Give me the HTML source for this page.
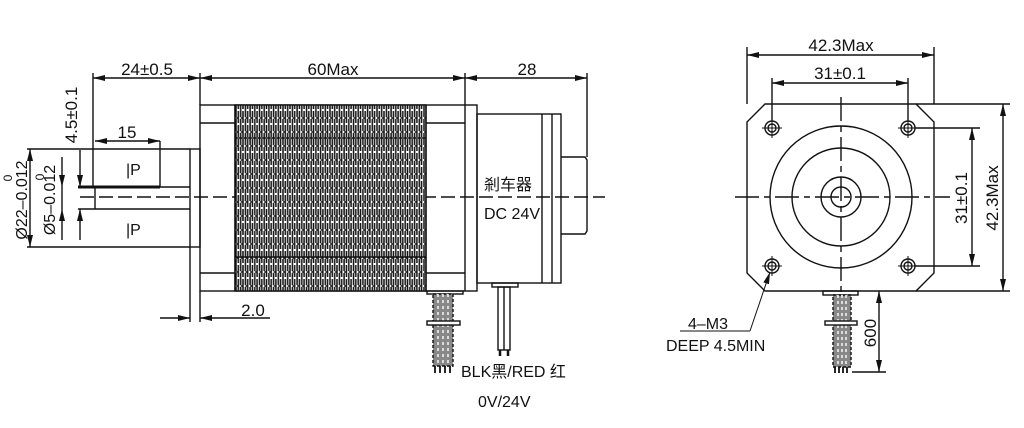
<!DOCTYPE html>
<html><head><meta charset="utf-8"><style>
html,body{margin:0;padding:0;background:#fff;}
svg{display:block;}
text{font-family:"Liberation Sans Narrow","Liberation Sans","Noto Sans CJK SC",sans-serif;fill:#111;}
</style></head><body>
<svg width="1024" height="428" viewBox="0 0 1024 428" xmlns="http://www.w3.org/2000/svg">
<defs>
<pattern id="h" x="235" y="0" width="4.7" height="14" patternUnits="userSpaceOnUse">
<rect width="4.7" height="14" fill="#fff"/>
<path d="M1 0V5M1 7V14M3.3 0V11M3.3 13V14M1 6H3.3" stroke="#111" stroke-width="1.5" fill="none"/>
</pattern>
<marker id="a" viewBox="0 0 12 6" refX="12" refY="3" markerWidth="12" markerHeight="6" orient="auto-start-reverse" markerUnits="userSpaceOnUse"><path d="M0 0L12 3L0 6Z" fill="#111"/></marker>
</defs>
<g stroke="#111" stroke-width="1.4" fill="none">
<line x1="80" y1="197" x2="605" y2="197" stroke-dasharray="14 5"/>
<rect x="200" y="105" width="277" height="186"/>
<rect x="235" y="105" width="191" height="186" fill="url(#h)"/>
<line x1="235" y1="105" x2="235" y2="291"/>
<line x1="426" y1="105" x2="426" y2="291"/>
<line x1="465" y1="105" x2="465" y2="291"/>
<line x1="200" y1="123" x2="235" y2="123"/><line x1="200" y1="273" x2="235" y2="273"/>
<line x1="426" y1="123" x2="465" y2="123"/><line x1="426" y1="273" x2="465" y2="273"/>
<line x1="235" y1="138" x2="426" y2="138"/><line x1="235" y1="257" x2="426" y2="257"/>
<rect x="477" y="114" width="84" height="169"/>
<line x1="542" y1="114" x2="542" y2="283"/><line x1="552" y1="114" x2="552" y2="283"/>
<path d="M561 157H585L587 160V231L585 234H561"/>
<rect x="190" y="149" width="10" height="98"/>
<line x1="27" y1="149" x2="190" y2="149"/><line x1="27" y1="247" x2="190" y2="247"/>
<line x1="78" y1="187" x2="190" y2="187"/><line x1="78" y1="209" x2="190" y2="209"/>
<line x1="78" y1="187" x2="160" y2="187" stroke-width="3"/>
<line x1="95" y1="187" x2="95" y2="209"/>
<line x1="93" y1="73" x2="93" y2="187"/>
<line x1="200" y1="73" x2="200" y2="105"/>
<line x1="465" y1="73" x2="465" y2="105"/>
<line x1="587" y1="73" x2="587" y2="157"/>
<line x1="93" y1="78" x2="200" y2="78" marker-start="url(#a)" marker-end="url(#a)"/>
<line x1="200" y1="78" x2="465" y2="78" marker-start="url(#a)" marker-end="url(#a)"/>
<line x1="465" y1="78" x2="587" y2="78" marker-start="url(#a)" marker-end="url(#a)"/>
<line x1="160" y1="141" x2="160" y2="187"/>
<line x1="95" y1="141" x2="160" y2="141" marker-start="url(#a)" marker-end="url(#a)"/>
<line x1="30" y1="149" x2="30" y2="247" marker-start="url(#a)" marker-end="url(#a)"/>
<line x1="62" y1="157" x2="62" y2="187" marker-end="url(#a)"/>
<line x1="62" y1="240" x2="62" y2="209" marker-end="url(#a)"/>
<line x1="62" y1="187" x2="62" y2="209"/>
<line x1="80" y1="150" x2="80" y2="187" marker-end="url(#a)"/>
<line x1="80" y1="240" x2="80" y2="209" marker-end="url(#a)"/>
<line x1="190" y1="247" x2="190" y2="322"/><line x1="200" y1="291" x2="200" y2="322"/>
<line x1="160" y1="318" x2="190" y2="318" marker-end="url(#a)"/>
<line x1="270" y1="318" x2="200" y2="318" marker-end="url(#a)"/>
<rect x="427" y="291" width="36" height="3"/>
<rect x="433" y="294" width="20" height="72" fill="#888" stroke-dasharray="3 2"/>
<line x1="438" y1="294" x2="438" y2="366" stroke="#fff" stroke-dasharray="3 3"/><line x1="443" y1="294" x2="443" y2="366" stroke="#fff" stroke-dasharray="3 3"/><line x1="448" y1="294" x2="448" y2="366" stroke="#fff" stroke-dasharray="3 3"/>
<path d="M435 366V373M440 366V373M445 366V373M450 366V373" stroke-width="1.8"/>
<rect x="427" y="321" width="33" height="4" fill="#fff"/>
<rect x="492" y="283" width="26" height="4"/>
<rect x="498" y="287" width="12" height="63"/><line x1="504" y1="287" x2="504" y2="350"/>
<path d="M500 350V356M508 350V356" stroke-width="2.5"/>
</g>
<g font-size="17">
<text x="147" y="75" text-anchor="middle">24±0.5</text>
<text x="333" y="75" text-anchor="middle">60Max</text>
<text x="527" y="75" text-anchor="middle">28</text>
<text x="127" y="138" text-anchor="middle">15</text>
<text x="253" y="316" text-anchor="middle">2.0</text>
<text x="126" y="175" font-size="16">|P</text>
<text x="126" y="235" font-size="16">|P</text>
<text transform="translate(77,115) rotate(-90)" text-anchor="middle">4.5±0.1</text>
<text transform="translate(27,200) rotate(-90)" text-anchor="middle" font-size="16">Ø22–0.012</text>
<text transform="translate(12,178) rotate(-90)" text-anchor="middle" font-size="12">0</text>
<text transform="translate(55,200) rotate(-90)" text-anchor="middle" font-size="16">Ø5–0.012</text>
<text transform="translate(44,177) rotate(-90)" text-anchor="middle" font-size="12">0</text>
<text x="484" y="190" font-size="16">剎车器</text>
<text x="484" y="219" font-size="16">DC 24V</text>
<text x="461" y="377" font-size="16">BLK黑/RED 红</text>
<text x="478" y="407" font-size="16">0V/24V</text>
</g>
<g stroke="#111" stroke-width="1.4" fill="none">
<path d="M765 104H916L934 122V273L916 291H765L747 273V122Z"/>
<line x1="735" y1="197" x2="950" y2="197" stroke-dasharray="24 5 6 5"/>
<line x1="841" y1="97" x2="841" y2="300" stroke-dasharray="24 5 6 5"/>
<circle cx="841" cy="197" r="71"/><circle cx="841" cy="197" r="49"/><circle cx="841" cy="197" r="20"/><circle cx="841" cy="197" r="10"/>
<g id="ho"><circle cx="772" cy="128" r="7"/><circle cx="772" cy="128" r="4"/><path d="M762 128H782M772 118V138" stroke-width="1"/></g>
<use href="#ho" x="136"/><use href="#ho" y="138"/><use href="#ho" x="136" y="138"/>
<line x1="747" y1="47" x2="747" y2="104"/><line x1="934" y1="47" x2="934" y2="104"/>
<line x1="747" y1="55" x2="934" y2="55" marker-start="url(#a)" marker-end="url(#a)"/>
<line x1="772" y1="78" x2="772" y2="120"/><line x1="908" y1="78" x2="908" y2="120"/>
<line x1="772" y1="83" x2="908" y2="83" marker-start="url(#a)" marker-end="url(#a)"/>
<line x1="916" y1="104" x2="1010" y2="104"/><line x1="916" y1="291" x2="1010" y2="291"/>
<line x1="1003" y1="104" x2="1003" y2="291" marker-start="url(#a)" marker-end="url(#a)"/>
<line x1="915" y1="128" x2="980" y2="128"/><line x1="915" y1="266" x2="980" y2="266"/>
<line x1="972" y1="128" x2="972" y2="266" marker-start="url(#a)" marker-end="url(#a)"/>
<rect x="823" y="291" width="35" height="4"/>
<rect x="833" y="295" width="18" height="72" fill="#888" stroke-dasharray="3 2"/>
<line x1="838" y1="295" x2="838" y2="367" stroke="#fff" stroke-dasharray="3 3"/><line x1="842" y1="295" x2="842" y2="367" stroke="#fff" stroke-dasharray="3 3"/><line x1="846" y1="295" x2="846" y2="367" stroke="#fff" stroke-dasharray="3 3"/>
<path d="M835 367V373M839 367V373M843 367V373M847 367V373" stroke-width="1.8"/>
<rect x="825" y="321" width="32" height="4" fill="#fff"/>
<line x1="852" y1="372" x2="886" y2="372"/>
<line x1="879" y1="291" x2="879" y2="372" marker-start="url(#a)" marker-end="url(#a)"/>
<path d="M680 331H750" stroke-width="1"/>
<line x1="750" y1="331" x2="770" y2="272" marker-end="url(#a)" stroke-width="1"/>
</g>
<g font-size="17">
<text x="841" y="51" text-anchor="middle">42.3Max</text>
<text x="840" y="79" text-anchor="middle">31±0.1</text>
<text transform="translate(998,198) rotate(-90)" text-anchor="middle">42.3Max</text>
<text transform="translate(967,198) rotate(-90)" text-anchor="middle">31±0.1</text>
<text transform="translate(876,333) rotate(-90)" text-anchor="middle">600</text>
<text x="688" y="329" font-size="16">4–M3</text>
<text x="666" y="351" font-size="16">DEEP 4.5MIN</text>
</g>
</svg>
</body></html>
